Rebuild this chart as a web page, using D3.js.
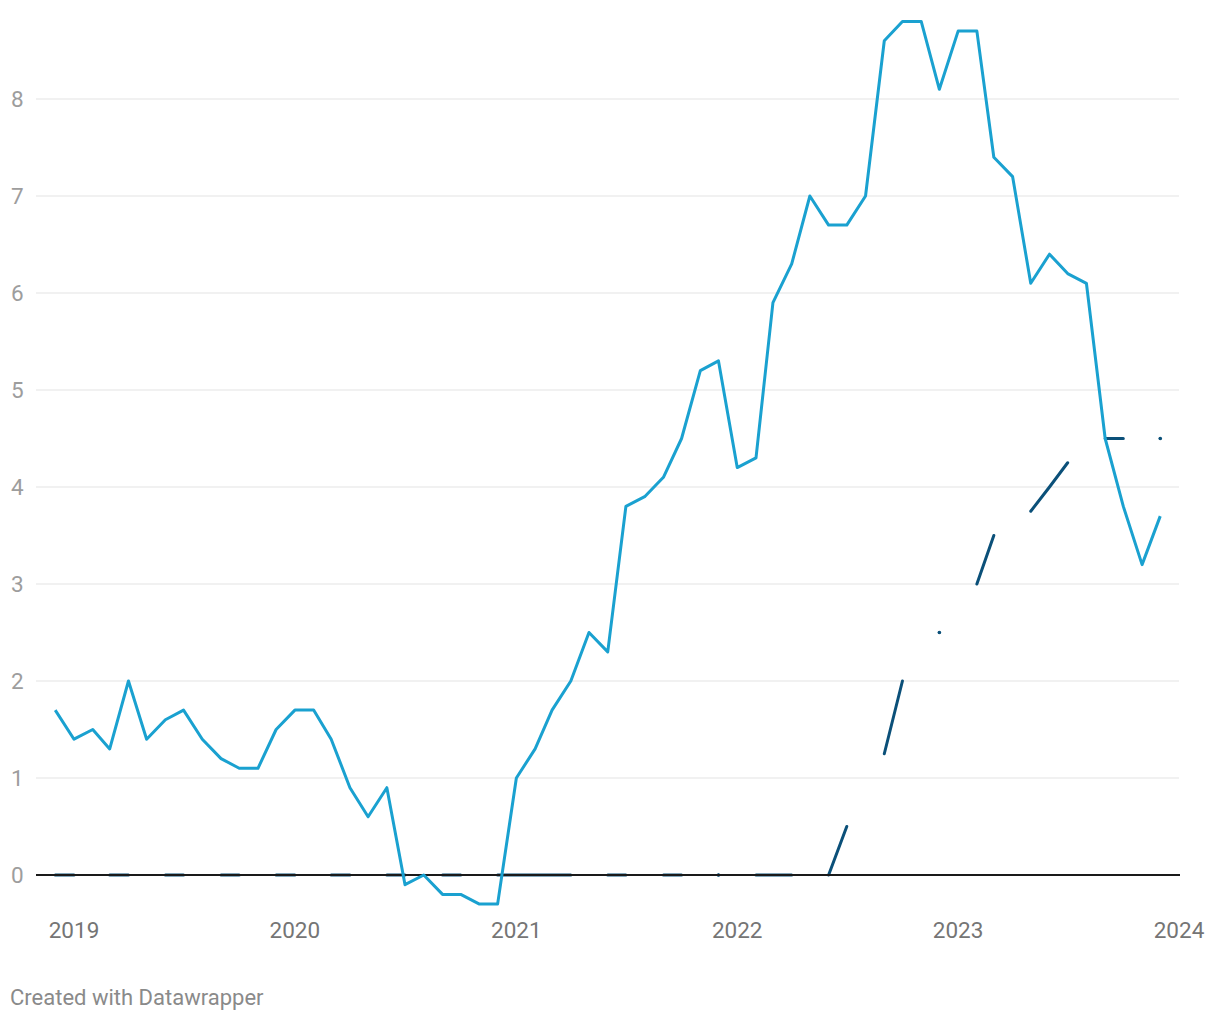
<!DOCTYPE html>
<html><head><meta charset="utf-8">
<script src="https://cdn.jsdelivr.net/npm/d3@7"></script>
<style>
body{margin:0;background:#fff;font-family:Roboto,"Noto Sans",sans-serif;}
</style></head><body>
<svg id="chart" width="1220" height="1020"></svg>
<script>
// Monthly series starting Dec 2018 through Dec 2023
const startYear = 2018, startMonth = 11;
const inflation = [1.7,1.4,1.5,1.3,2.0,1.4,1.6,1.7,1.4,1.2,1.1,1.1,1.5,
  1.7,1.7,1.4,0.9,0.6,0.9,-0.1,0.0,-0.2,-0.2,-0.3,-0.3,
  1.0,1.3,1.7,2.0,2.5,2.3,3.8,3.9,4.1,4.5,5.2,5.3,
  4.2,4.3,5.9,6.3,7.0,6.7,6.7,7.0,8.6,8.8,8.8,8.1,
  8.7,8.7,7.4,7.2,6.1,6.4,6.2,6.1,4.5,3.8,3.2,3.7];
const policyRate = [0,0,null,0,0,null,0,0,null,0,0,null,0,
  0,null,0,0,null,0,0,null,0,0,null,0,
  0,0,0,0,null,0,0,null,0,0,null,0,
  null,0,0,0,null,0,0.5,null,1.25,2.0,null,2.5,
  null,3.0,3.5,null,3.75,4.0,4.25,null,4.5,4.5,null,4.5];
const yTicks = [0,1,2,3,4,5,6,7,8];
const xTickYears = [2019,2020,2021,2022,2023,2024];

const svg = d3.select("#chart");
const x = d3.scaleTime().domain([new Date(2019,0,1), new Date(2024,0,1)]).range([74,1179]);
const y = d3.scaleLinear().domain([0,8]).range([875,99]);
const dateOf = i => new Date(startYear, startMonth + i, 1);

// grid
svg.append("g").selectAll("line").data(yTicks.filter(d=>d!==0)).join("line")
  .attr("x1",36).attr("x2",1179).attr("y1",d=>y(d)).attr("y2",d=>y(d))
  .attr("stroke","#e3e3e3").attr("stroke-width",1);
svg.append("g").selectAll("text").data(yTicks).join("text")
  .attr("x",11).attr("y",d=>y(d)).attr("dy","0.35em")
  .attr("font-size",22.5).attr("fill","#9d9d9d").text(d=>d);

// x labels
svg.append("g").selectAll("text").data(xTickYears).join("text")
  .attr("x",d=>x(new Date(d,0,1))).attr("y",930).attr("dy","0.35em")
  .attr("text-anchor","middle").attr("font-size",22.5).attr("fill","#757575").text(d=>d);

// policy rate line (dark)
const rateData = policyRate.map((v,i)=>({d:dateOf(i),v}));
const lineR = d3.line().defined(p=>p.v!==null).x(p=>x(p.d)).y(p=>y(p.v));
svg.append("path").datum(rateData).attr("d",lineR).attr("fill","none")
  .attr("stroke","#0b5079").attr("stroke-width",3).attr("stroke-linecap","round").attr("stroke-linejoin","round");
// isolated points
const iso = rateData.filter((p,i)=>p.v!==null && (i===0||policyRate[i-1]===null) && (i===policyRate.length-1||policyRate[i+1]===null));
svg.append("g").selectAll("circle").data(iso).join("circle")
  .attr("cx",p=>x(p.d)).attr("cy",p=>y(p.v)).attr("r",1.8).attr("fill","#0b5079");

// baseline
svg.append("line").attr("x1",36).attr("x2",1180).attr("y1",y(0)).attr("y2",y(0))
  .attr("stroke","#1a1a1a").attr("stroke-width",2);

// inflation line
const infData = inflation.map((v,i)=>({d:dateOf(i),v}));
const lineI = d3.line().x(p=>x(p.d)).y(p=>y(p.v));
svg.append("path").datum(infData).attr("d",lineI).attr("fill","none")
  .attr("stroke","#1aa1d0").attr("stroke-width",3).attr("stroke-linejoin","round");

svg.append("text").attr("x",10).attr("y",997).attr("dy","0.35em")
  .attr("font-size",22).attr("fill","#8a8a8a").text("Created with Datawrapper");
</script>
</body></html>
